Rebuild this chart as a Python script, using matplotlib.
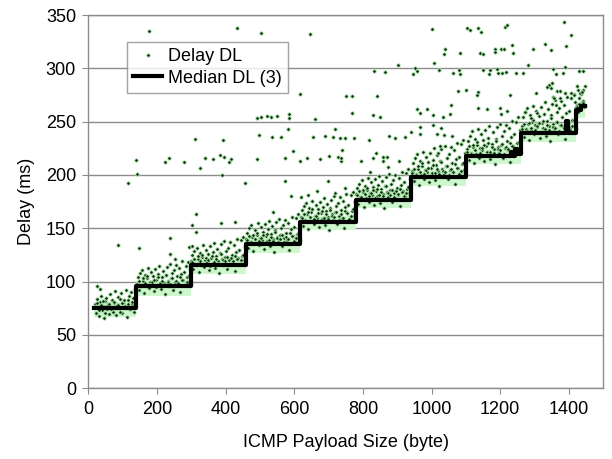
import numpy as np
import matplotlib
matplotlib.use("Agg")
import matplotlib.pyplot as plt

plt.rcParams["font.family"] = ["Liberation Sans", "DejaVu Sans"]
plt.rcParams["font.size"] = 13

# payload steps (byte) and the delay haze around each step (ms)
step_edges = [16, 139, 298, 458, 618, 779, 940, 1101, 1262, 1421, 1447]
band_low = [67, 87, 107, 127, 148, 169, 190, 210, 231, 253]
band_high = [81, 101, 121, 141, 162, 183, 204, 224, 245, 267]

# running median of 3 (ms)
median_x = [16, 139, 298, 458, 618, 779, 940, 1101, 1232, 1237, 1244, 1250, 1262,
            1392, 1398, 1421, 1437, 1447]
median_y = [75, 95.5, 115.5, 135.5, 156, 177, 198, 218, 222, 218, 224, 220, 239.5,
            251, 239.5, 261, 265, 265]

# DL delay samples per step: wide spread every 3 byte, tight ones every 6 byte
seg_start = [18, 141, 300, 460, 620, 781, 942, 1103, 1264, 1423]
seg_wide = [
    [79, 71, 84, 76, 68, 81, 87, 73, 77, 66, 82, 85, 74, 79, 70, 88, 76, 83, 72, 80,
     91, 69, 78, 86, 75, 84, 89, 71, 80, 77, 92, 67, 83, 87, 74, 90, 79, 85, 72, 93],
    [99, 104, 92, 108, 97, 111, 101, 89, 106, 96, 103, 113, 94, 100, 109, 98, 105, 91,
     112, 102, 97, 107, 115, 93, 104, 110, 99, 88, 106, 114, 101, 96, 117, 103, 108, 92,
     111, 100, 116, 105, 98, 113, 90, 107, 119, 102, 109, 97, 115, 104, 118, 100, 112],
    [119, 125, 112, 129, 117, 132, 121, 109, 127, 116, 123, 134, 114, 120, 130, 118, 126,
     111, 133, 122, 117, 128, 136, 113, 124, 131, 119, 108, 127, 135, 121, 116, 138, 123,
     129, 112, 132, 120, 137, 125, 118, 134, 110, 128, 140, 122, 130, 117, 139, 124, 142,
     120, 133],
    [140, 146, 132, 150, 137, 153, 142, 129, 148, 136, 144, 155, 134, 141, 151, 139, 147,
     131, 154, 143, 138, 149, 157, 133, 145, 152, 140, 128, 148, 156, 142, 137, 159, 144,
     150, 133, 153, 141, 158, 146, 139, 155, 130, 149, 161, 143, 151, 138, 160, 145, 163,
     141, 154],
    [161, 167, 152, 171, 158, 174, 163, 149, 169, 157, 165, 176, 154, 162, 172, 160, 168,
     151, 175, 164, 159, 170, 178, 153, 166, 173, 161, 148, 169, 177, 163, 158, 180, 165,
     171, 154, 174, 162, 179, 167, 160, 176, 150, 170, 182, 164, 172, 159, 181, 166, 184,
     162, 175],
    [182, 188, 173, 192, 179, 195, 184, 170, 190, 178, 186, 197, 175, 183, 193, 181, 189,
     172, 196, 185, 180, 191, 199, 174, 187, 194, 182, 169, 190, 198, 184, 179, 201, 186,
     192, 175, 195, 183, 200, 188, 181, 197, 171, 191, 203, 185, 193, 180, 202, 187, 206,
     183, 196],
    [204, 211, 194, 216, 201, 220, 206, 191, 213, 200, 208, 222, 196, 205, 217, 203, 212,
     193, 221, 207, 202, 214, 225, 195, 209, 219, 204, 190, 213, 224, 206, 201, 227, 208,
     216, 196, 220, 205, 226, 211, 203, 223, 192, 215, 230, 207, 217, 202, 229, 210, 233,
     205, 221],
    [224, 232, 214, 237, 221, 241, 226, 211, 234, 220, 228, 243, 216, 225, 238, 223, 233,
     213, 242, 227, 222, 235, 246, 215, 229, 240, 224, 210, 234, 245, 226, 221, 248, 228,
     237, 216, 241, 225, 247, 232, 223, 244, 212, 236, 251, 227, 238, 222, 250, 230, 254,
     225, 242],
    [246, 254, 236, 259, 243, 263, 248, 233, 256, 242, 250, 265, 238, 247, 260, 245, 255,
     235, 264, 249, 244, 257, 268, 237, 251, 262, 246, 232, 256, 267, 248, 243, 270, 250,
     259, 238, 263, 247, 269, 254, 245, 266, 234, 258, 273, 249, 260, 244, 272, 252, 276,
     247, 264],
    [266, 259, 272, 262, 276, 268, 280, 264, 283],
]
seg_tight = [
    [76, 80, 73, 78, 82, 71, 77, 79, 74, 81, 75, 78, 72, 80, 83, 76, 79, 74, 81, 77],
    [98, 101, 96, 103, 99, 105, 97, 100, 102, 95, 104, 99, 101, 97, 106, 100, 98, 103,
     96, 101, 99, 104, 102, 97, 100, 105, 98],
    [118, 121, 116, 124, 119, 125, 117, 122, 120, 115, 124, 118, 121, 117, 126, 120, 119,
     123, 116, 122, 119, 124, 121, 117, 120, 125, 118],
    [139, 143, 137, 144, 140, 146, 138, 141, 144, 136, 145, 139, 142, 138, 147, 141, 140,
     144, 137, 142, 140, 146, 143, 138, 141, 145, 139],
    [160, 163, 157, 165, 161, 168, 159, 162, 164, 157, 166, 160, 163, 159, 167, 162, 161,
     165, 158, 163, 160, 166, 164, 159, 162, 168, 160],
    [181, 185, 179, 186, 182, 188, 180, 183, 186, 178, 187, 181, 184, 180, 190, 183, 181,
     186, 179, 185, 182, 187, 184, 180, 183, 189, 181],
    [202, 206, 200, 208, 203, 211, 201, 205, 207, 199, 209, 202, 206, 201, 212, 204, 203,
     208, 200, 206, 203, 210, 207, 201, 204, 211, 202],
    [222, 227, 220, 228, 223, 231, 221, 225, 228, 219, 230, 222, 226, 221, 232, 224, 223,
     229, 220, 226, 224, 230, 227, 221, 225, 231, 222],
    [243, 248, 241, 249, 244, 252, 242, 246, 249, 240, 251, 243, 247, 242, 253, 245, 244,
     250, 241, 247, 244, 251, 248, 242, 246, 252, 243],
    [264, 267, 263, 269, 265],
]

# isolated DL samples away from the main cloud
outlier_x = [139, 141, 116, 86, 146, 222, 234, 277, 325, 341, 364, 383, 395, 416, 411,
             389, 456, 490, 574, 597, 617, 636, 676, 702, 727, 735, 573, 699, 591, 619,
             640, 666, 749, 718, 538, 312, 302, 313, 239, 237, 252, 387, 426, 292, 302,
             751, 767, 840, 768, 828, 850, 959, 966, 986, 1003, 1034, 1055, 1057, 1137,
             1161, 1200, 1202, 1221, 1305, 1355, 733, 747, 774, 738, 737, 819, 838, 829,
             858, 860, 795, 821, 874, 871, 906, 877, 893, 923, 941, 966, 966, 1003, 1015,
             1029, 1036, 1061, 1025, 1019,
             175, 432, 504, 646, 1002, 1103, 1112, 1136, 1145, 1215, 1221, 1385, 1408,
             1392, 1040, 1036, 1084, 1140, 1151, 1186, 1184, 1202, 1212, 1235, 1237, 1295,
             1332, 1348, 832, 865, 902, 951, 947, 957, 1023, 1062, 1080, 1083, 1008, 1150,
             1170, 1168, 1190, 1194, 1206, 1217, 1246, 1267, 1280, 1355, 1362, 1382, 1388,
             1429, 1443, 617, 1076, 1102, 1136, 1132, 1229, 1344, 1348, 1367, 1375, 492,
             504, 520, 531, 549, 586, 586, 659, 1272, 1289, 1309, 310, 392, 498, 535, 560,
             582, 655, 690, 712, 720, 1423, 1428, 1433, 1438, 1415, 1443, 1418, 1406, 1375,
             1390, 1344, 1351, 1336, 1356, 1363, 26, 33]
outlier_y = [213.7, 201.2, 192.2, 134.3, 131.2, 212.2, 215.9, 211.8, 206.5, 215.6, 214.7,
             218.7, 216.8, 214.7, 211.8, 200.3, 192.2, 214.7, 215.6, 222.5, 213.1, 215.6,
             214.7, 217.5, 216.8, 213.1, 194.7, 194.7, 180.3, 179, 181.5, 184.7, 187.8,
             183.4, 165.3, 163.4, 153.1, 146.8, 141.2, 125.9, 121.5, 155.3, 156.2, 132.1,
             133.1, 274, 274, 274, 258.4, 255.9, 254, 261.5, 258.4, 261.5, 255.9, 254.7,
             257.2, 265.9, 262.8, 261.5, 262.8, 257.2, 259.7, 277.1, 273.4, 234.3, 234.3,
             234.9, 223.4, 215.6, 232.8, 221, 216, 217.2, 213.5, 213.5, 203.1, 207.8,
             217.2, 213.5, 236.5, 235, 235.9, 239.9, 244.6, 238.4, 247.1, 238.4, 244.3,
             237.1, 236.5, 227.1, 220.3,
             335.3, 338.1, 333.4, 332.4, 336.8, 338.1, 335.9, 338.1, 334, 339, 340.9, 343.4,
             331.5, 320.9, 317.7, 313.7, 314.6, 314.6, 313.7, 318.4, 315.3, 317.7, 317.7,
             321.5, 314.6, 317.7, 323, 316.8, 297.1, 296.5, 302.8, 300.6, 294.3, 297.5,
             298.1, 295.6, 298.1, 295, 305.3, 298.1, 298.1, 295, 299, 295.6, 295.9, 296.5,
             295.9, 295.9, 302.8, 299, 295, 295.3, 301.2, 297.5, 297.1, 275.9, 278.4, 280,
             277.5, 274.6, 274.6, 283.4, 281.2, 279, 278.4, 253.7, 254, 255.3, 254, 255.3,
             257.2, 253.7, 252.1, 259.1, 253.4, 257.8, 233.9, 232.6, 237.9, 236, 235.3,
             243.4, 236, 237, 235.6, 243, 283.4, 279.6, 276.5, 278, 275, 267.2, 268.8,
             276.5, 271.8, 276.5, 284.4, 286.6, 282.8, 271.8, 265.8, 95.9, 93.1]

dl_x = []
dl_y = []
for start, wide, tight in zip(seg_start, seg_wide, seg_tight):
    dl_x += [start + 3 * i for i in range(len(wide))]
    dl_y += wide
    dl_x += [start + 1 + 6 * i for i in range(len(tight))]
    dl_y += tight
dl_x += outlier_x
dl_y += outlier_y

fig = plt.figure(figsize=(6.12, 4.59), dpi=100)
ax = fig.add_axes([0.1446, 0.154, 0.8407, 0.8133])

lo = band_low + [band_low[-1]]
hi = band_high + [band_high[-1]]
ax.fill_between(step_edges, lo, hi, step="post", color="#cff6cf", lw=0, zorder=1)

ax.plot(dl_x, dl_y, linestyle="none", marker="o", ms=2.5, mfc="#062a06",
        mec="#b2ecb2", mew=0.6, label="Delay DL", zorder=2)
ax.step(median_x, median_y, where="post", color="black", lw=3,
        label="Median DL (3)", zorder=3)

ax.set_xlim(0, 1500)
ax.set_ylim(0, 350)
ax.set_xticks(np.arange(0, 1401, 200))
ax.set_yticks(np.arange(0, 351, 50))
ax.yaxis.grid(True, color="#8c8c8c", lw=1)
ax.set_axisbelow(True)
for s in ax.spines.values():
    s.set_color("#8c8c8c")
    s.set_linewidth(1)
ax.tick_params(direction="out", length=4, color="#8c8c8c", labelsize=13, pad=5)

ax.set_xlabel("ICMP Payload Size (byte)", fontsize=13, labelpad=12)
ax.set_ylabel("Delay (ms)", fontsize=13, labelpad=8)

leg = ax.legend(loc="upper left", bbox_to_anchor=(0.075, 0.928), borderaxespad=0,
                numpoints=1, fontsize=13, frameon=True, fancybox=False,
                handlelength=1.6, handletextpad=0.3, labelspacing=0.25,
                borderpad=0.35, markerscale=1.0)
leg.get_frame().set_edgecolor("#8c8c8c")
leg.get_frame().set_linewidth(1)

fig.savefig("out.png", dpi=100)
